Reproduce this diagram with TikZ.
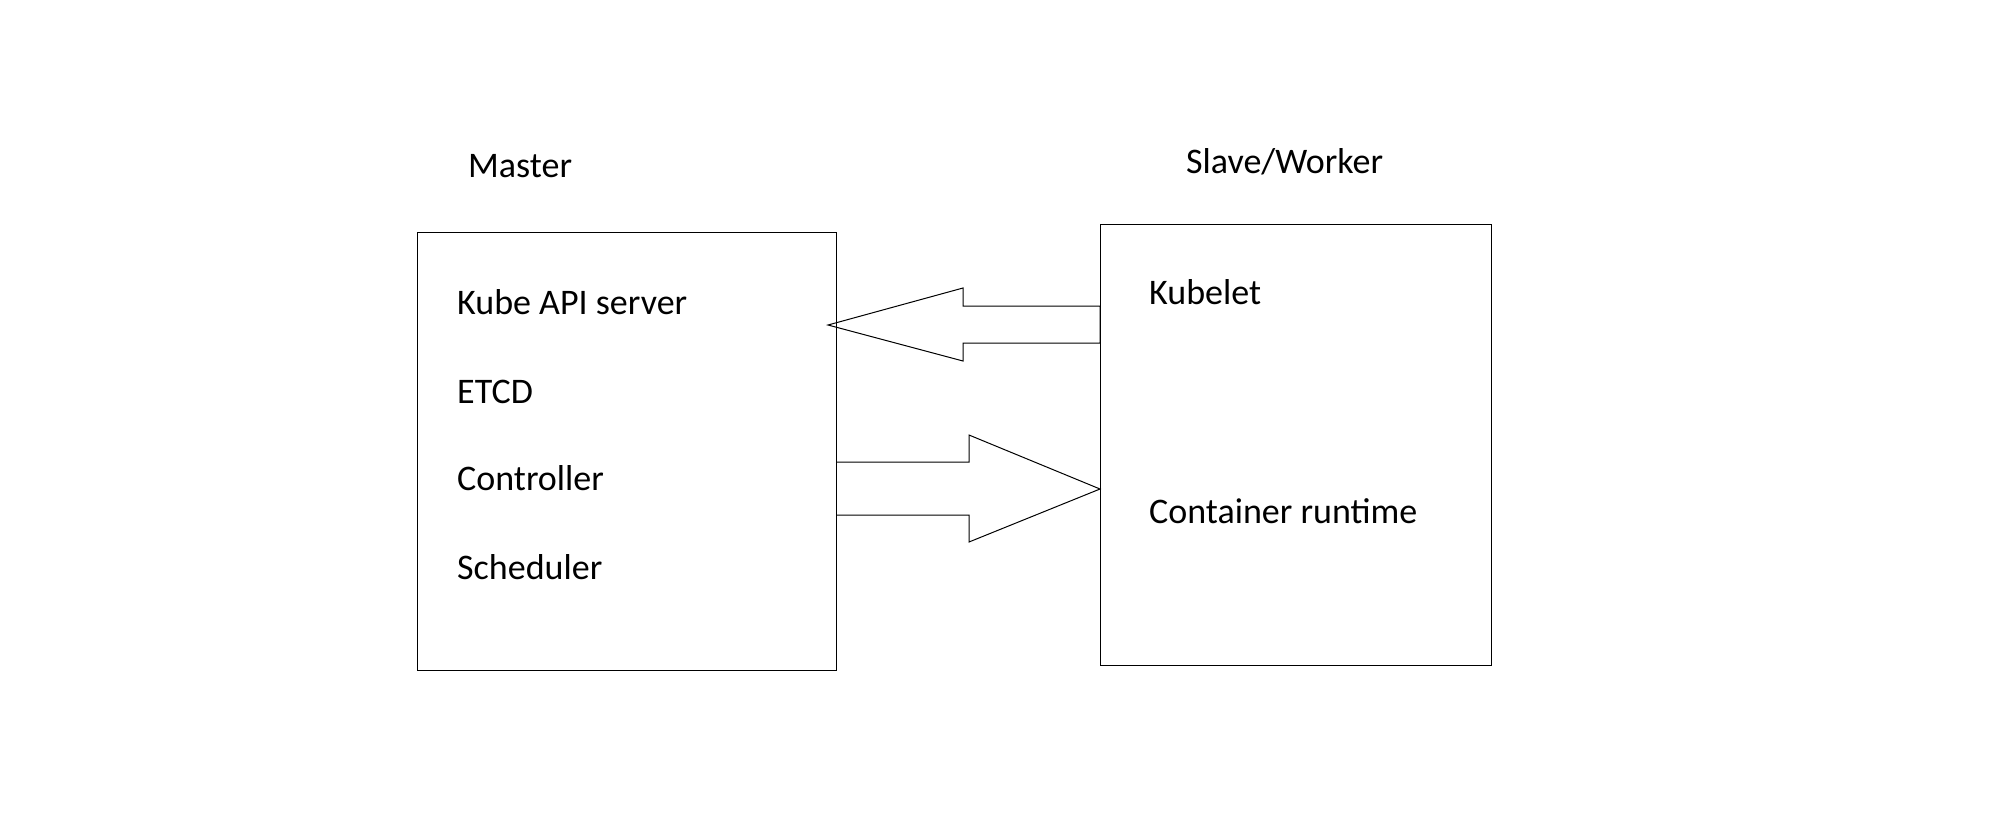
\documentclass[tikz,border=0pt]{standalone}
\usepackage{fontspec}
\setmainfont{Carlito}
\begin{document}
\begin{tikzpicture}[x=1pt,y=-1pt,
  box/.style={draw, line width=1pt, inner sep=0pt, anchor=north west},
  lbl/.style={inner sep=0pt, anchor=base west, font=\fontsize{36}{42}\selectfont},
  blockarrow/.style={draw, line width=1pt, line join=miter}]
\useasboundingbox (0,0) rectangle (2011,812);
\node[box, minimum width=419pt, minimum height=438pt] (master) at (417,232) {};
\node[box, minimum width=391pt, minimum height=441pt] (worker) at (1100,224) {};
\node[lbl] (tmaster) at (468,177) {Master};
\node[lbl] (tworker) at (1186,173) {Slave/Worker};
\node[lbl] (kapi) at (457,314) {Kube API server};
\node[lbl] (etcd) at (457,403) {ETCD};
\node[lbl] (ctrl) at (457,490) {Controller};
\node[lbl] (sched) at (457,579) {Scheduler};
\node[lbl] (kubelet) at (1149,304) {Kubelet};
\node[lbl] (crt) at (1149,523) {Container runtime};
% arrow from worker to master
\coordinate (a1tip) at (828,325);
\draw[blockarrow] (worker.west |- 0,306) -- (963,306) -- (963,288) -- (a1tip)
  -- (963,361) -- (963,343) -- (worker.west |- 0,343) -- cycle;
% arrow from master to worker
\coordinate (a2tip) at (worker.west |- 0,489);
\draw[blockarrow] (master.east |- 0,462) -- (969,462) -- (969,435) -- (a2tip)
  -- (969,542) -- (969,515) -- (master.east |- 0,515);
\end{tikzpicture}
\end{document}
